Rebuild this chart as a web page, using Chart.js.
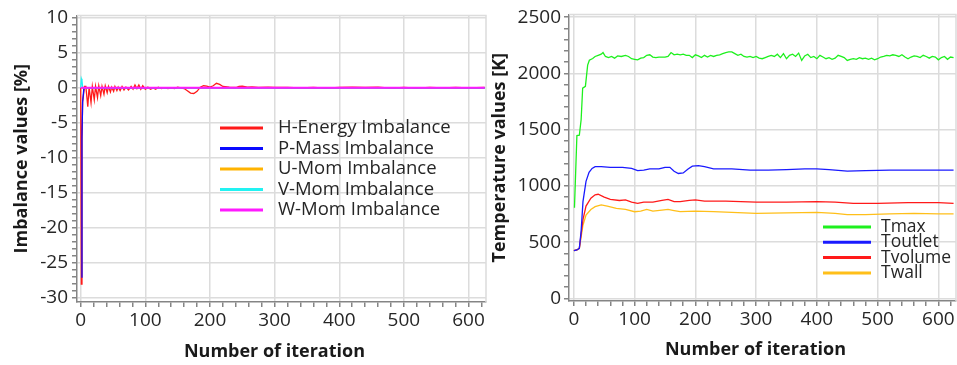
<!DOCTYPE html>
<html>
<head>
<meta charset="utf-8">
<script src="https://cdn.jsdelivr.net/npm/chart.js@4.4.1/dist/chart.umd.min.js"></script>
<style>
    html, body { margin: 0; padding: 0; background: #ffffff; }
    #leftBox { position: absolute; left: 0; top: 0; }
    #rightBox { position: absolute; left: 488px; top: 0; }
</style>
</head>
<body>
<div id="leftBox"><canvas id="imbalanceChart" width="488" height="365"></canvas></div>
<div id="rightBox"><canvas id="tempChart" width="469" height="365"></canvas></div>
<script>
// ---- Imbalance chart data (iteration / percent) ----
const imbalanceLabels = ['H-Energy Imbalance', 'P-Mass Imbalance', 'U-Mom Imbalance', 'V-Mom Imbalance', 'W-Mom Imbalance'];
const imbalanceColors = ['#ff1a1a', '#0a0aff', '#ffb300', '#22f2f2', '#ff1aff'];

const hEnergyIter = [0, 1, 2, 3, 5, 6, 8, 11, 13, 16, 18, 21, 23, 26, 28, 31, 33, 36, 38, 41, 43, 46, 48, 51, 53, 56, 58, 61, 64,
    67, 70, 74, 78, 81, 84, 87, 90, 93, 96, 100, 104, 108, 112, 116, 120, 125, 130, 135, 140, 145, 150, 155,
    160, 165, 170, 175, 180, 185, 190, 195, 200, 205, 210, 215, 220, 230, 240, 245, 250, 258, 265, 275, 290, 300, 320, 340, 360,
    380, 400, 420, 440, 460, 480, 500, 520, 540, 560, 580, 600, 625];
const hEnergyVal = [0, -28, -7.5, -2, -0.5, 0.2, 0.2, -2.7, 0.1, -2.1, 0.2, -1.7, 0.2, -1.4, 0.3, -1.1, 0.2, -0.9, 0.3, -0.7, 0.2, -0.6, 0.1, -0.5, 0.2, -0.4, 0.1, -0.4, 0.2,
    -0.3, 0.1, -0.3, 0.2, -0.2, 0.4, -0.1, 0.4, -0.2, 0.3, -0.2, 0.1, -0.2, 0.0, -0.2, 0.1, -0.1, 0.0, -0.1, 0.0, -0.1, 0.1, 0.0, -0.1,
    -0.4, -0.75, -0.8, -0.5, 0.1, 0.3, 0.25, 0.1, 0.3, 0.65, 0.5, 0.2, 0.1, 0.05, 0.2, 0.25, 0.1, 0.15, 0.05, 0.1, 0.05, 0.05, 0, 0.05, -0.05,
    0.05, 0.1, 0.05, 0.1, -0.05, 0.05, -0.05, 0.05, 0, 0.05, 0, 0.05, 0.05];

const pMassIter = [1, 2, 3, 5, 625];
const pMassVal = [-27, -7, -2, 0, 0];
const uMomIter = [0, 625];
const uMomVal = [0, 0];
const vMomIter = [0, 1, 2, 3, 5, 625];
const vMomVal = [0, 1.3, 1.0, 0.1, 0, 0];
const wMomIter = [0, 625];
const wMomVal = [0, 0];

// ---- Temperature chart data (iteration / K) ----
const tempLabels = ['Tmax', 'Toutlet', 'Tvolume', 'Twall'];
const tempColors = ['#1ef01e', '#1a1aff', '#ff1a1a', '#ffbf1a'];

const tMaxIter = [1, 5, 9, 12, 14.5, 19, 22.7, 25.5, 31, 35, 40, 45, 48, 52, 57, 62, 67, 72, 78, 85, 90, 95, 100, 105, 110, 115, 120,
    125, 130, 135, 140, 150, 155, 160, 165, 170, 175, 180, 185, 190, 195, 200, 205, 210, 215, 220, 225, 230, 235, 240, 245, 250,
    255, 260, 265, 270, 275, 280, 285, 290, 295, 300, 305, 310, 315, 320, 325, 330, 335, 340, 345, 350, 355, 360, 365, 370, 375,
    380, 385, 390, 395, 400, 405, 410, 415, 420, 425, 430, 435, 440, 445, 450, 455, 460, 465, 470, 475, 480, 485, 490, 495, 500,
    505, 510, 515, 520, 525, 530, 535, 540, 545, 550, 555, 560, 565, 570, 575, 580, 585, 590, 595, 600, 605, 610, 615, 620, 625];
const tMaxVal = [806, 1447, 1450, 1590, 1869, 1884, 2073, 2117, 2132, 2150, 2160, 2170, 2185, 2150, 2140, 2150, 2135, 2155, 2150, 2160, 2150, 2130, 2125, 2120, 2135, 2140, 2160,
    2165, 2145, 2140, 2145, 2145, 2150, 2185, 2165, 2170, 2165, 2170, 2160, 2160, 2140, 2165, 2155, 2140, 2160, 2145, 2160, 2150, 2160, 2165, 2175, 2185,
    2190, 2190, 2175, 2160, 2170, 2150, 2145, 2150, 2140, 2150, 2135, 2130, 2140, 2150, 2160, 2150, 2170, 2140, 2175, 2130, 2160, 2170, 2150, 2180, 2115,
    2155, 2170, 2140, 2150, 2130, 2160, 2145, 2130, 2140, 2125, 2135, 2160, 2150, 2140, 2115, 2125, 2130, 2125, 2140, 2130, 2135, 2125, 2135, 2120, 2130,
    2145, 2150, 2160, 2155, 2165, 2160, 2150, 2165, 2145, 2130, 2145, 2155, 2150, 2140, 2160, 2150, 2135, 2150, 2145, 2120, 2140, 2150, 2125, 2145, 2140];

const tOutletIter = [0, 5, 9, 12, 15, 20, 25, 30, 35, 45, 60, 80, 95, 105, 115, 125, 140, 150, 158, 165, 172, 180, 188, 195, 205, 215,
    230, 260, 290, 320, 350, 380, 400, 420, 450, 480, 520, 560, 600, 625];
const tOutletVal = [425, 430, 445, 600, 860, 1040, 1120, 1155, 1170, 1170, 1165, 1165, 1155, 1135, 1140, 1150, 1150, 1165, 1165, 1130, 1110, 1115, 1150, 1175, 1180, 1170,
    1150, 1150, 1140, 1140, 1145, 1150, 1150, 1145, 1130, 1135, 1140, 1140, 1140, 1140];

const tVolumeIter = [0, 5, 9, 15, 20, 28, 35, 40, 50, 60, 75, 85, 95, 105, 115, 130, 145, 155, 165, 175, 190, 200, 215, 250, 300, 350,
    400, 430, 460, 500, 550, 600, 625];
const tVolumeVal = [425, 430, 445, 700, 820, 890, 920, 925, 900, 880, 870, 875, 855, 845, 855, 855, 870, 880, 860, 860, 870, 875, 865, 865, 855, 855,
    860, 855, 845, 845, 850, 850, 845];

const tWallIter = [0, 5, 9, 15, 20, 28, 35, 45, 55, 70, 85, 100, 110, 120, 130, 145, 155, 165, 175, 200, 230, 260, 300, 350, 400, 430,
    450, 480, 520, 560, 600, 625];
const tWallVal = [425, 430, 445, 650, 740, 790, 815, 830, 820, 800, 790, 770, 775, 790, 775, 785, 790, 780, 770, 775, 770, 765, 755, 760, 765, 755,
    745, 745, 750, 755, 750, 750];

// ---- helpers ----
const GRID = '#dcdcdc';
const AXIS = '#858585';
const FONT = '"Open Sans", "Noto Sans", sans-serif';
const X_TITLE = 'Number of iteration\u00a0\u00a0\u00a0';

function toPoints(xs, ys) {
    return xs.map((x, i) => ({ x: x, y: ys[i] }));
}

function lineSet(label, color, xs, ys, order, width) {
    return {
        label: label,
        data: toPoints(xs, ys),
        borderColor: color,
        backgroundColor: color,
        borderWidth: width || 1.3,
        pointRadius: 0,
        tension: 0,
        order: order
    };
}

// light frame on top/right + legend drawn inside the plot
const framePlugin = {
    id: 'frame',
    beforeDatasetsDraw(chart) {
        const { ctx, chartArea: a } = chart;
        ctx.save();
        ctx.strokeStyle = GRID;
        ctx.lineWidth = 1.5;
        ctx.beginPath();
        ctx.moveTo(a.left, a.top);
        ctx.lineTo(a.right, a.top);
        ctx.lineTo(a.right, a.bottom);
        ctx.stroke();
        ctx.restore();
    },
    afterDatasetsDraw(chart, args, opts) {
        if (!opts.items) return;
        const ctx = chart.ctx;
        ctx.save();
        ctx.font = opts.font;
        ctx.fillStyle = '#262626';
        ctx.textBaseline = 'middle';
        opts.items.forEach((it, i) => {
            const y = opts.y + i * opts.gap;
            ctx.strokeStyle = it.color;
            ctx.lineWidth = 3;
            ctx.beginPath();
            ctx.moveTo(opts.x, y);
            ctx.lineTo(opts.x + opts.len, y);
            ctx.stroke();
            ctx.fillText(it.label, opts.x + opts.len + opts.textGap, y);
        });
        ctx.restore();
    }
};

function axisOptions(cfg) {
    return {
        type: 'linear',
        min: cfg.min,
        max: cfg.max,
        afterFit: cfg.fit,
        border: { display: true, color: AXIS, width: 1.5 },
        grid: {
            color: (c) => (c.tick && Math.abs(c.tick.value % cfg.major) < 1e-6) ? GRID : 'rgba(0,0,0,0)',
            lineWidth: 1.5,
            tickColor: AXIS,
            tickLength: 5,
            drawTicks: true
        },
        ticks: {
            stepSize: cfg.minor,
            includeBounds: false,
            autoSkip: false,
            maxRotation: 0,
            padding: cfg.pad,
            color: '#262626',
            font: { family: FONT, size: 19 },
            callback: (v) => (Math.abs(v % cfg.major) < 1e-6 ? String(Math.round(v)) : '')
        },
        title: {
            display: true,
            text: cfg.title,
            color: '#1a1a1a',
            font: { family: FONT, size: 18, weight: 'bold' },
            padding: cfg.titlePad
        }
    };
}

// ---- left chart ----
new Chart(document.getElementById('imbalanceChart'), {
    type: 'line',
    data: {
        datasets: [
            lineSet(imbalanceLabels[0], imbalanceColors[0], hEnergyIter, hEnergyVal, 3),
            lineSet(imbalanceLabels[1], imbalanceColors[1], pMassIter, pMassVal, 2),
            lineSet(imbalanceLabels[2], imbalanceColors[2], uMomIter, uMomVal, 4),
            lineSet(imbalanceLabels[3], imbalanceColors[3], vMomIter, vMomVal, 1),
            lineSet(imbalanceLabels[4], imbalanceColors[4], wMomIter, wMomVal, 0, 2)
        ]
    },
    options: {
        responsive: false,
        animation: false,
        layout: { padding: { top: 12, right: 2, left: 0, bottom: 0 } },
        plugins: {
            legend: { display: false },
            tooltip: { enabled: false },
            frame: {
                items: imbalanceLabels.map((l, i) => ({ label: l, color: imbalanceColors[i] })),
                x: 220, y: 128, gap: 20.5, len: 43, textGap: 15,
                font: '18.5px ' + FONT
            }
        },
        scales: {
            x: axisOptions({ min: -5.7, max: 627, minor: 20, major: 100, pad: 2, title: X_TITLE,
                titlePad: { top: 4, bottom: 2 }, fit: (s) => { s.height = 63; } }),
            y: axisOptions({ min: -30.56, max: 10.34, minor: 1, major: 5, pad: 4, title: 'Imbalance values [%]',
                titlePad: { top: 11, bottom: 0 }, fit: (s) => { s.width = 77; } })
        }
    },
    plugins: [framePlugin]
});

// ---- right chart ----
new Chart(document.getElementById('tempChart'), {
    type: 'line',
    data: {
        datasets: [
            lineSet(tempLabels[0], tempColors[0], tMaxIter, tMaxVal, 0),
            lineSet(tempLabels[1], tempColors[1], tOutletIter, tOutletVal, 1),
            lineSet(tempLabels[2], tempColors[2], tVolumeIter, tVolumeVal, 2),
            lineSet(tempLabels[3], tempColors[3], tWallIter, tWallVal, 3)
        ]
    },
    options: {
        responsive: false,
        animation: false,
        layout: { padding: { top: 10, right: 1, left: 0, bottom: 0 } },
        plugins: {
            legend: { display: false },
            tooltip: { enabled: false },
            frame: {
                items: tempLabels.map((l, i) => ({ label: l, color: tempColors[i] })),
                x: 335, y: 227, gap: 15.3, len: 48, textGap: 10,
                font: '17.5px ' + FONT
            }
        },
        scales: {
            x: axisOptions({ min: -8, max: 629, minor: 20, major: 100, pad: 2, title: X_TITLE,
                titlePad: { top: 4, bottom: 4 }, fit: (s) => { s.height = 64; } }),
            y: axisOptions({ min: -23.6, max: 2524, minor: 100, major: 500, pad: 3, title: 'Temperature values [K]',
                titlePad: { top: 1, bottom: 0 }, fit: (s) => { s.width = 81; } })
        }
    },
    plugins: [framePlugin]
});
</script>
</body>
</html>
